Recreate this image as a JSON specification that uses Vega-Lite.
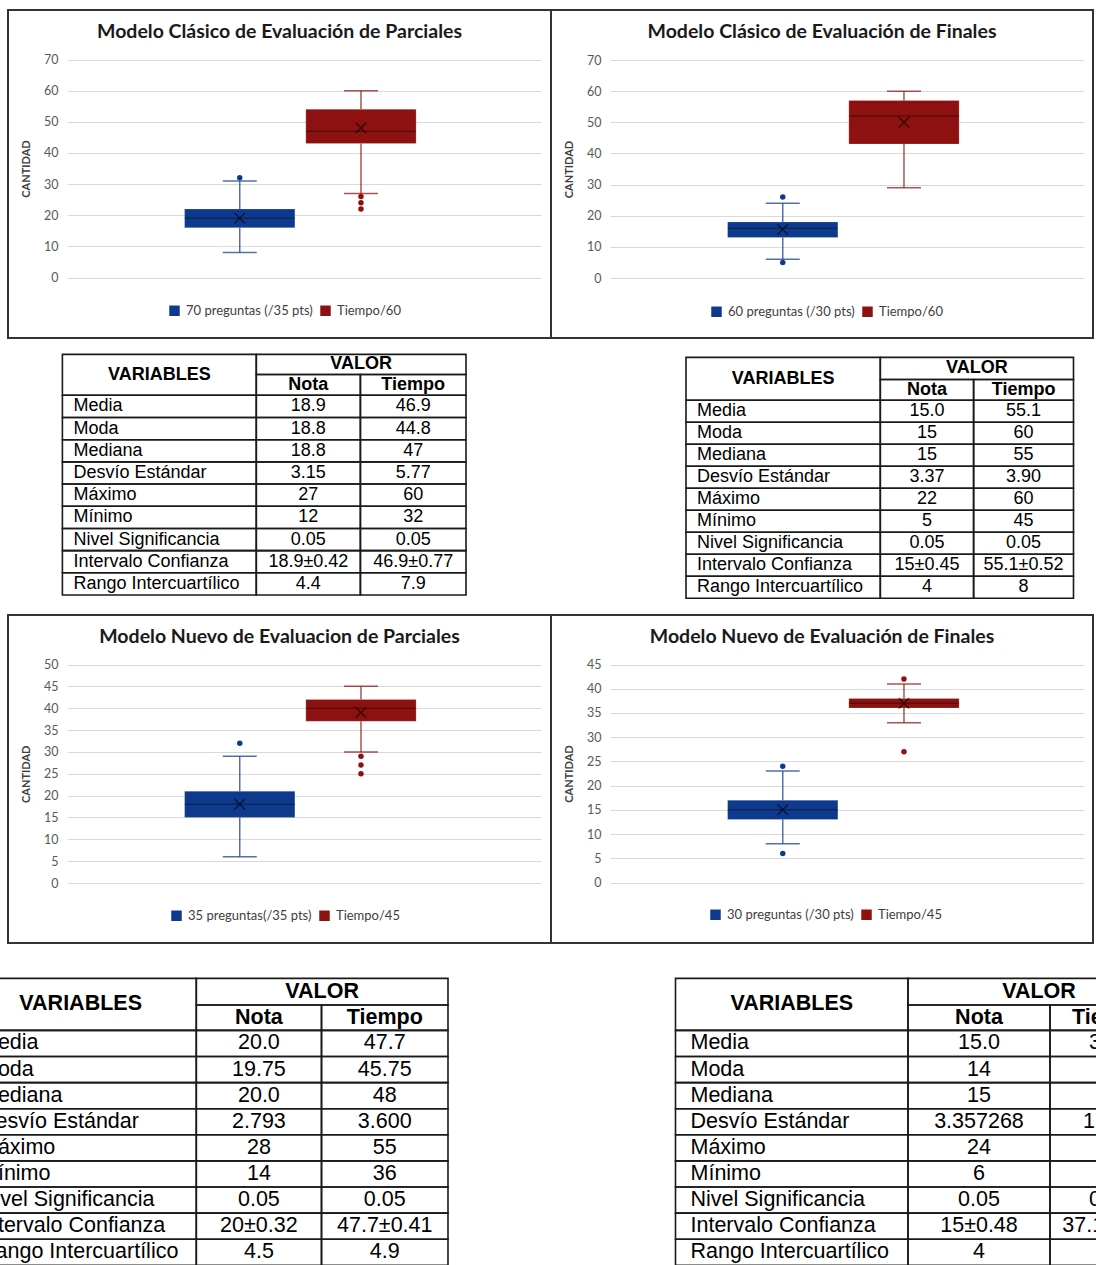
{
  "$schema": "https://vega.github.io/schema/vega-lite/v6.json",
  "background": "white",
  "autosize": {"type": "none"},
  "padding": {"left": 8, "top": 10, "right": 1088, "bottom": 1255},
  "bounds": "flush",
  "columns": 2,
  "spacing": {"row": 0, "column": 0},
  "resolve": {
    "scale": {"x": "independent", "y": "independent", "color": "independent"},
    "legend": {"color": "independent"}
  },
  "config": {
    "view": {"stroke": null},
    "title": {"font": "Lato", "fontSize": 19.5, "fontWeight": 700, "color": "#1a1a1a", "anchor": "middle"},
    "text": {"font": "Liberation Sans", "color": "#000000"},
    "legend": {
      "orient": "none", "direction": "horizontal", "symbolType": "square", "symbolSize": 110,
      "symbolStrokeWidth": 0, "symbolOpacity": 1, "labelFont": "Lato", "labelFontSize": 13, "labelColor": "#404040",
      "labelOffset": 5, "columnPadding": 6, "padding": 0
    },
    "axisY": {
      "domain": false, "ticks": false, "labelPadding": 9, "labelFont": "Lato", "labelFontSize": 12.5,
      "labelColor": "#595959", "labelOverlap": false, "titleFont": "Lato", "titleFontSize": 11, "titleFontWeight": "bold",
      "titleColor": "#404040", "titlePadding": 12, "gridColor": "#D9D9D9", "gridWidth": 1.2
    }
  },
  "datasets": {
    "cajas": [
      {"grafico": "Clásico Parciales", "serie": "70 preguntas (/35 pts)", "minimo": 8, "q1": 16, "mediana": 19, "q3": 22, "maximo": 31, "media": 19},
      {"grafico": "Clásico Parciales", "serie": "Tiempo/60", "minimo": 27, "q1": 43, "mediana": 47, "q3": 54, "maximo": 60, "media": 48},
      {"grafico": "Clásico Finales", "serie": "60 preguntas (/30 pts)", "minimo": 6, "q1": 13, "mediana": 16, "q3": 18, "maximo": 24, "media": 15.6},
      {"grafico": "Clásico Finales", "serie": "Tiempo/60", "minimo": 29, "q1": 43, "mediana": 52, "q3": 57, "maximo": 60, "media": 50},
      {"grafico": "Nuevo Parciales", "serie": "35 preguntas(/35 pts)", "minimo": 6, "q1": 15, "mediana": 18, "q3": 21, "maximo": 29, "media": 18},
      {"grafico": "Nuevo Parciales", "serie": "Tiempo/45", "minimo": 30, "q1": 37, "mediana": 40, "q3": 42, "maximo": 45, "media": 39},
      {"grafico": "Nuevo Finales", "serie": "30 preguntas (/30 pts)", "minimo": 8, "q1": 13, "mediana": 15, "q3": 17, "maximo": 23, "media": 15},
      {"grafico": "Nuevo Finales", "serie": "Tiempo/45", "minimo": 33, "q1": 36, "mediana": 37, "q3": 38, "maximo": 41, "media": 37}
    ],
    "atipicos": [
      {"grafico": "Clásico Parciales", "serie": "70 preguntas (/35 pts)", "valor": 32},
      {"grafico": "Clásico Parciales", "serie": "Tiempo/60", "valor": 26},
      {"grafico": "Clásico Parciales", "serie": "Tiempo/60", "valor": 24},
      {"grafico": "Clásico Parciales", "serie": "Tiempo/60", "valor": 22},
      {"grafico": "Clásico Finales", "serie": "60 preguntas (/30 pts)", "valor": 26},
      {"grafico": "Clásico Finales", "serie": "60 preguntas (/30 pts)", "valor": 5},
      {"grafico": "Nuevo Parciales", "serie": "35 preguntas(/35 pts)", "valor": 32},
      {"grafico": "Nuevo Parciales", "serie": "Tiempo/45", "valor": 29},
      {"grafico": "Nuevo Parciales", "serie": "Tiempo/45", "valor": 27},
      {"grafico": "Nuevo Parciales", "serie": "Tiempo/45", "valor": 25},
      {"grafico": "Nuevo Finales", "serie": "30 preguntas (/30 pts)", "valor": 24},
      {"grafico": "Nuevo Finales", "serie": "30 preguntas (/30 pts)", "valor": 6},
      {"grafico": "Nuevo Finales", "serie": "Tiempo/45", "valor": 42},
      {"grafico": "Nuevo Finales", "serie": "Tiempo/45", "valor": 27}
    ],
    "cabecera": [
      {"texto": "VARIABLES"}, {"texto": "VALOR"}, {"texto": "Nota"}, {"texto": "Tiempo"}
    ],
    "tablas": [
      {"tabla": "Clásico Parciales", "variable": "Media", "Nota": "18.9", "Tiempo": "46.9"},
      {"tabla": "Clásico Parciales", "variable": "Moda", "Nota": "18.8", "Tiempo": "44.8"},
      {"tabla": "Clásico Parciales", "variable": "Mediana", "Nota": "18.8", "Tiempo": "47"},
      {"tabla": "Clásico Parciales", "variable": "Desvío Estándar", "Nota": "3.15", "Tiempo": "5.77"},
      {"tabla": "Clásico Parciales", "variable": "Máximo", "Nota": "27", "Tiempo": "60"},
      {"tabla": "Clásico Parciales", "variable": "Mínimo", "Nota": "12", "Tiempo": "32"},
      {"tabla": "Clásico Parciales", "variable": "Nivel Significancia", "Nota": "0.05", "Tiempo": "0.05"},
      {"tabla": "Clásico Parciales", "variable": "Intervalo Confianza", "Nota": "18.9±0.42", "Tiempo": "46.9±0.77"},
      {"tabla": "Clásico Parciales", "variable": "Rango Intercuartílico", "Nota": "4.4", "Tiempo": "7.9"},
      {"tabla": "Clásico Finales", "variable": "Media", "Nota": "15.0", "Tiempo": "55.1"},
      {"tabla": "Clásico Finales", "variable": "Moda", "Nota": "15", "Tiempo": "60"},
      {"tabla": "Clásico Finales", "variable": "Mediana", "Nota": "15", "Tiempo": "55"},
      {"tabla": "Clásico Finales", "variable": "Desvío Estándar", "Nota": "3.37", "Tiempo": "3.90"},
      {"tabla": "Clásico Finales", "variable": "Máximo", "Nota": "22", "Tiempo": "60"},
      {"tabla": "Clásico Finales", "variable": "Mínimo", "Nota": "5", "Tiempo": "45"},
      {"tabla": "Clásico Finales", "variable": "Nivel Significancia", "Nota": "0.05", "Tiempo": "0.05"},
      {"tabla": "Clásico Finales", "variable": "Intervalo Confianza", "Nota": "15±0.45", "Tiempo": "55.1±0.52"},
      {"tabla": "Clásico Finales", "variable": "Rango Intercuartílico", "Nota": "4", "Tiempo": "8"},
      {"tabla": "Nuevo Parciales", "variable": "Media", "Nota": "20.0", "Tiempo": "47.7"},
      {"tabla": "Nuevo Parciales", "variable": "Moda", "Nota": "19.75", "Tiempo": "45.75"},
      {"tabla": "Nuevo Parciales", "variable": "Mediana", "Nota": "20.0", "Tiempo": "48"},
      {"tabla": "Nuevo Parciales", "variable": "Desvío Estándar", "Nota": "2.793", "Tiempo": "3.600"},
      {"tabla": "Nuevo Parciales", "variable": "Máximo", "Nota": "28", "Tiempo": "55"},
      {"tabla": "Nuevo Parciales", "variable": "Mínimo", "Nota": "14", "Tiempo": "36"},
      {"tabla": "Nuevo Parciales", "variable": "Nivel Significancia", "Nota": "0.05", "Tiempo": "0.05"},
      {"tabla": "Nuevo Parciales", "variable": "Intervalo Confianza", "Nota": "20±0.32", "Tiempo": "47.7±0.41"},
      {"tabla": "Nuevo Parciales", "variable": "Rango Intercuartílico", "Nota": "4.5", "Tiempo": "4.9"},
      {"tabla": "Nuevo Finales", "variable": "Media", "Nota": "15.0", "Tiempo": "37.1"},
      {"tabla": "Nuevo Finales", "variable": "Moda", "Nota": "14", "Tiempo": "37"},
      {"tabla": "Nuevo Finales", "variable": "Mediana", "Nota": "15", "Tiempo": "37"},
      {"tabla": "Nuevo Finales", "variable": "Desvío Estándar", "Nota": "3.357268", "Tiempo": "1.843"},
      {"tabla": "Nuevo Finales", "variable": "Máximo", "Nota": "24", "Tiempo": "42"},
      {"tabla": "Nuevo Finales", "variable": "Mínimo", "Nota": "6", "Tiempo": "27"},
      {"tabla": "Nuevo Finales", "variable": "Nivel Significancia", "Nota": "0.05", "Tiempo": "0.05"},
      {"tabla": "Nuevo Finales", "variable": "Intervalo Confianza", "Nota": "15±0.48", "Tiempo": "37.1±0.25"},
      {"tabla": "Nuevo Finales", "variable": "Rango Intercuartílico", "Nota": "4", "Tiempo": "2"}
    ]
  },
  "concat": [
    {
      "width": 543, "height": 328,
      "view": {"stroke": "#333333", "strokeWidth": 2},
      "title": {"text": "Modelo Clásico de Evaluación de Parciales", "offset": -32},
      "data": {"name": "cajas"},
      "transform": [{"filter": "datum.grafico === 'Clásico Parciales'"}],
      "encoding": {
        "x": {"field": "serie", "type": "nominal", "axis": null,
              "scale": {"domain": ["70 preguntas (/35 pts)", "Tiempo/60"], "range": [59, 533], "paddingInner": 0.09, "paddingOuter": 1, "align": 0.485}}
      },
      "layer": [
        {"mark": {"type": "bar", "stroke": "#ffffff", "strokeOpacity": 0.2, "strokeWidth": 1, "opacity": 1},
         "encoding": {
           "y": {"field": "q1", "type": "quantitative", "scale": {"domain": [0, 70], "range": [267.5, 49.5], "nice": false, "zero": false},
                 "axis": {"title": "CANTIDAD", "offset": -59, "values": [0, 10, 20, 30, 40, 50, 60, 70]}},
           "y2": {"field": "q3"},
           "color": {"field": "serie", "type": "nominal", "scale": {"domain": ["70 preguntas (/35 pts)", "Tiempo/60"], "range": ["#0E3A8E", "#8E1111"]},
                     "legend": {"title": null, "orient": "none", "symbolType": "square", "legendX": 160, "legendY": 294}}}},
        {"mark": {"type": "rule", "strokeWidth": 1.5, "opacity": 0.72},
         "encoding": {"y": {"field": "minimo", "type": "quantitative", "axis": {"title": "CANTIDAD", "offset": -59, "values": [0, 10, 20, 30, 40, 50, 60, 70]}}, "y2": {"field": "q1"}, "color": {"field": "serie", "type": "nominal"}}},
        {"mark": {"type": "rule", "strokeWidth": 1.5, "opacity": 0.72},
         "encoding": {"y": {"field": "q3", "type": "quantitative", "axis": {"title": "CANTIDAD", "offset": -59, "values": [0, 10, 20, 30, 40, 50, 60, 70]}}, "y2": {"field": "maximo"}, "color": {"field": "serie", "type": "nominal"}}},
        {"transform": [{"fold": ["minimo", "maximo"], "as": ["extremo", "valor"]}],
         "mark": {"type": "tick", "size": 34, "thickness": 1.5, "opacity": 0.72},
         "encoding": {"y": {"field": "valor", "type": "quantitative", "axis": {"title": "CANTIDAD", "offset": -59, "values": [0, 10, 20, 30, 40, 50, 60, 70]}}, "color": {"field": "serie", "type": "nominal"}}},
        {"mark": {"type": "tick", "size": 110, "thickness": 1.5, "color": "#000000", "opacity": 0.35},
         "encoding": {"y": {"field": "mediana", "type": "quantitative", "axis": {"title": "CANTIDAD", "offset": -59, "values": [0, 10, 20, 30, 40, 50, 60, 70]}}}},
        {"mark": {"type": "point", "shape": "M-1,-1L1,1M-1,1L1,-1", "filled": false, "size": 110, "color": "#000000", "strokeWidth": 1.4, "opacity": 0.6},
         "encoding": {"y": {"field": "media", "type": "quantitative", "axis": {"title": "CANTIDAD", "offset": -59, "values": [0, 10, 20, 30, 40, 50, 60, 70]}}}},
        {"data": {"name": "atipicos"},
         "transform": [{"filter": "datum.grafico === 'Clásico Parciales'"}],
         "mark": {"type": "point", "filled": true, "size": 30, "opacity": 1},
         "encoding": {"y": {"field": "valor", "type": "quantitative", "axis": {"title": "CANTIDAD", "offset": -59, "values": [0, 10, 20, 30, 40, 50, 60, 70]}}, "color": {"field": "serie", "type": "nominal"}}}
      ]
    },
    {
      "width": 542, "height": 328,
      "view": {"stroke": "#333333", "strokeWidth": 2},
      "title": {"text": "Modelo Clásico de Evaluación de Finales", "offset": -32},
      "data": {"name": "cajas"},
      "transform": [{"filter": "datum.grafico === 'Clásico Finales'"}],
      "encoding": {
        "x": {"field": "serie", "type": "nominal", "axis": null,
              "scale": {"domain": ["60 preguntas (/30 pts)", "Tiempo/60"], "range": [59, 533], "paddingInner": 0.09, "paddingOuter": 1, "align": 0.485}}
      },
      "layer": [
        {"mark": {"type": "bar", "stroke": "#ffffff", "strokeOpacity": 0.2, "strokeWidth": 1, "opacity": 1},
         "encoding": {
           "y": {"field": "q1", "type": "quantitative", "scale": {"domain": [0, 70], "range": [268, 50], "nice": false, "zero": false},
                 "axis": {"title": "CANTIDAD", "offset": -59, "values": [0, 10, 20, 30, 40, 50, 60, 70]}},
           "y2": {"field": "q3"},
           "color": {"field": "serie", "type": "nominal", "scale": {"domain": ["60 preguntas (/30 pts)", "Tiempo/60"], "range": ["#0E3A8E", "#8E1111"]},
                     "legend": {"title": null, "orient": "none", "symbolType": "square", "legendX": 159, "legendY": 295}}}},
        {"mark": {"type": "rule", "strokeWidth": 1.5, "opacity": 0.72},
         "encoding": {"y": {"field": "minimo", "type": "quantitative", "axis": {"title": "CANTIDAD", "offset": -59, "values": [0, 10, 20, 30, 40, 50, 60, 70]}}, "y2": {"field": "q1"}, "color": {"field": "serie", "type": "nominal"}}},
        {"mark": {"type": "rule", "strokeWidth": 1.5, "opacity": 0.72},
         "encoding": {"y": {"field": "q3", "type": "quantitative", "axis": {"title": "CANTIDAD", "offset": -59, "values": [0, 10, 20, 30, 40, 50, 60, 70]}}, "y2": {"field": "maximo"}, "color": {"field": "serie", "type": "nominal"}}},
        {"transform": [{"fold": ["minimo", "maximo"], "as": ["extremo", "valor"]}],
         "mark": {"type": "tick", "size": 34, "thickness": 1.5, "opacity": 0.72},
         "encoding": {"y": {"field": "valor", "type": "quantitative", "axis": {"title": "CANTIDAD", "offset": -59, "values": [0, 10, 20, 30, 40, 50, 60, 70]}}, "color": {"field": "serie", "type": "nominal"}}},
        {"mark": {"type": "tick", "size": 110, "thickness": 1.5, "color": "#000000", "opacity": 0.35},
         "encoding": {"y": {"field": "mediana", "type": "quantitative", "axis": {"title": "CANTIDAD", "offset": -59, "values": [0, 10, 20, 30, 40, 50, 60, 70]}}}},
        {"mark": {"type": "point", "shape": "M-1,-1L1,1M-1,1L1,-1", "filled": false, "size": 110, "color": "#000000", "strokeWidth": 1.4, "opacity": 0.6},
         "encoding": {"y": {"field": "media", "type": "quantitative", "axis": {"title": "CANTIDAD", "offset": -59, "values": [0, 10, 20, 30, 40, 50, 60, 70]}}}},
        {"data": {"name": "atipicos"},
         "transform": [{"filter": "datum.grafico === 'Clásico Finales'"}],
         "mark": {"type": "point", "filled": true, "size": 30, "opacity": 1},
         "encoding": {"y": {"field": "valor", "type": "quantitative", "axis": {"title": "CANTIDAD", "offset": -59, "values": [0, 10, 20, 30, 40, 50, 60, 70]}}, "color": {"field": "serie", "type": "nominal"}}}
      ]
    },
    {
      "width": 543, "height": 277,
      "resolve": {"scale": {"x": "independent", "y": "independent"}},
      "layer": [
        {"data": {"name": "cabecera"}, "transform": [{"filter": "datum.texto === 'VARIABLES'"}],
         "encoding": {
           "x": {"field": "texto", "type": "nominal", "axis": null, "scale": {"range": [54.4, 248.3], "paddingInner": 0, "paddingOuter": 0}},
           "y": {"field": "texto", "type": "nominal", "axis": null, "scale": {"range": [16.4, 57.3], "paddingInner": 0, "paddingOuter": 0}}},
         "layer": [
           {"mark": {"type": "rect", "filled": false, "stroke": "#1a1a1a", "strokeWidth": 1.6}},
           {"mark": {"type": "text", "fontSize": 18, "fontWeight": "bold"}, "encoding": {"text": {"field": "texto"}}}]},
        {"data": {"name": "cabecera"}, "transform": [{"filter": "datum.texto === 'VALOR'"}],
         "encoding": {
           "x": {"field": "texto", "type": "nominal", "axis": null, "scale": {"range": [248.3, 458], "paddingInner": 0, "paddingOuter": 0}},
           "y": {"field": "texto", "type": "nominal", "axis": null, "scale": {"range": [16.4, 36.5], "paddingInner": 0, "paddingOuter": 0}}},
         "layer": [
           {"mark": {"type": "rect", "filled": false, "stroke": "#1a1a1a", "strokeWidth": 1.6}},
           {"mark": {"type": "text", "fontSize": 18, "fontWeight": "bold"}, "encoding": {"text": {"field": "texto"}}}]},
        {"data": {"name": "cabecera"}, "transform": [{"filter": "datum.texto === 'Nota'"}],
         "encoding": {
           "x": {"field": "texto", "type": "nominal", "axis": null, "scale": {"range": [248.3, 352.4], "paddingInner": 0, "paddingOuter": 0}},
           "y": {"field": "texto", "type": "nominal", "axis": null, "scale": {"range": [36.5, 57.3], "paddingInner": 0, "paddingOuter": 0}}},
         "layer": [
           {"mark": {"type": "rect", "filled": false, "stroke": "#1a1a1a", "strokeWidth": 1.6}},
           {"mark": {"type": "text", "fontSize": 18, "fontWeight": "bold"}, "encoding": {"text": {"field": "texto"}}}]},
        {"data": {"name": "cabecera"}, "transform": [{"filter": "datum.texto === 'Tiempo'"}],
         "encoding": {
           "x": {"field": "texto", "type": "nominal", "axis": null, "scale": {"range": [352.4, 458], "paddingInner": 0, "paddingOuter": 0}},
           "y": {"field": "texto", "type": "nominal", "axis": null, "scale": {"range": [36.5, 57.3], "paddingInner": 0, "paddingOuter": 0}}},
         "layer": [
           {"mark": {"type": "rect", "filled": false, "stroke": "#1a1a1a", "strokeWidth": 1.6}},
           {"mark": {"type": "text", "fontSize": 18, "fontWeight": "bold"}, "encoding": {"text": {"field": "texto"}}}]},
        {"data": {"name": "tablas"},
         "transform": [{"filter": "datum.tabla === 'Clásico Parciales'"}, {"fold": ["variable"], "as": ["columna", "valor"]}],
         "encoding": {
           "x": {"field": "columna", "type": "nominal", "axis": null, "scale": {"range": [54.4, 248.3], "paddingInner": 0, "paddingOuter": 0}},
           "y": {"field": "variable", "type": "nominal", "sort": null, "axis": null,
                 "scale": {"domain": ["Media", "Moda", "Mediana", "Desvío Estándar", "Máximo", "Mínimo", "Nivel Significancia", "Intervalo Confianza", "Rango Intercuartílico"], "range": [57.3, 257], "paddingInner": 0, "paddingOuter": 0}}},
         "layer": [
           {"mark": {"type": "rect", "filled": false, "stroke": "#1a1a1a", "strokeWidth": 1.6}},
           {"mark": {"type": "text", "fontSize": 18, "align": "left", "dx": 11},
            "encoding": {"x": {"field": "columna", "type": "nominal", "bandPosition": 0, "axis": null}, "text": {"field": "valor"}}}]},
        {"data": {"name": "tablas"},
         "transform": [{"filter": "datum.tabla === 'Clásico Parciales'"}, {"fold": ["Nota", "Tiempo"], "as": ["columna", "valor"]}, {"filter": "datum.columna === 'Nota'"}],
         "encoding": {
           "x": {"field": "columna", "type": "nominal", "axis": null, "scale": {"range": [248.3, 352.4], "paddingInner": 0, "paddingOuter": 0}},
           "y": {"field": "variable", "type": "nominal", "sort": null, "axis": null,
                 "scale": {"domain": ["Media", "Moda", "Mediana", "Desvío Estándar", "Máximo", "Mínimo", "Nivel Significancia", "Intervalo Confianza", "Rango Intercuartílico"], "range": [57.3, 257], "paddingInner": 0, "paddingOuter": 0}}},
         "layer": [
           {"mark": {"type": "rect", "filled": false, "stroke": "#1a1a1a", "strokeWidth": 1.6}},
           {"mark": {"type": "text", "fontSize": 18}, "encoding": {"text": {"field": "valor"}}}]},
        {"data": {"name": "tablas"},
         "transform": [{"filter": "datum.tabla === 'Clásico Parciales'"}, {"fold": ["Nota", "Tiempo"], "as": ["columna", "valor"]}, {"filter": "datum.columna === 'Tiempo'"}],
         "encoding": {
           "x": {"field": "columna", "type": "nominal", "axis": null, "scale": {"range": [352.4, 458], "paddingInner": 0, "paddingOuter": 0}},
           "y": {"field": "variable", "type": "nominal", "sort": null, "axis": null,
                 "scale": {"domain": ["Media", "Moda", "Mediana", "Desvío Estándar", "Máximo", "Mínimo", "Nivel Significancia", "Intervalo Confianza", "Rango Intercuartílico"], "range": [57.3, 257], "paddingInner": 0, "paddingOuter": 0}}},
         "layer": [
           {"mark": {"type": "rect", "filled": false, "stroke": "#1a1a1a", "strokeWidth": 1.6}},
           {"mark": {"type": "text", "fontSize": 18}, "encoding": {"text": {"field": "valor"}}}]}
      ]
    },
    {
      "width": 542, "height": 277,
      "resolve": {"scale": {"x": "independent", "y": "independent"}},
      "layer": [
        {"data": {"name": "cabecera"}, "transform": [{"filter": "datum.texto === 'VARIABLES'"}],
         "encoding": {
           "x": {"field": "texto", "type": "nominal", "axis": null, "scale": {"range": [135, 329.3], "paddingInner": 0, "paddingOuter": 0}},
           "y": {"field": "texto", "type": "nominal", "axis": null, "scale": {"range": [19.4, 62.3], "paddingInner": 0, "paddingOuter": 0}}},
         "layer": [
           {"mark": {"type": "rect", "filled": false, "stroke": "#1a1a1a", "strokeWidth": 1.6}},
           {"mark": {"type": "text", "fontSize": 18, "fontWeight": "bold"}, "encoding": {"text": {"field": "texto"}}}]},
        {"data": {"name": "cabecera"}, "transform": [{"filter": "datum.texto === 'VALOR'"}],
         "encoding": {
           "x": {"field": "texto", "type": "nominal", "axis": null, "scale": {"range": [329.3, 522.5], "paddingInner": 0, "paddingOuter": 0}},
           "y": {"field": "texto", "type": "nominal", "axis": null, "scale": {"range": [19.4, 41.5], "paddingInner": 0, "paddingOuter": 0}}},
         "layer": [
           {"mark": {"type": "rect", "filled": false, "stroke": "#1a1a1a", "strokeWidth": 1.6}},
           {"mark": {"type": "text", "fontSize": 18, "fontWeight": "bold"}, "encoding": {"text": {"field": "texto"}}}]},
        {"data": {"name": "cabecera"}, "transform": [{"filter": "datum.texto === 'Nota'"}],
         "encoding": {
           "x": {"field": "texto", "type": "nominal", "axis": null, "scale": {"range": [329.3, 422.6], "paddingInner": 0, "paddingOuter": 0}},
           "y": {"field": "texto", "type": "nominal", "axis": null, "scale": {"range": [41.5, 62.3], "paddingInner": 0, "paddingOuter": 0}}},
         "layer": [
           {"mark": {"type": "rect", "filled": false, "stroke": "#1a1a1a", "strokeWidth": 1.6}},
           {"mark": {"type": "text", "fontSize": 18, "fontWeight": "bold"}, "encoding": {"text": {"field": "texto"}}}]},
        {"data": {"name": "cabecera"}, "transform": [{"filter": "datum.texto === 'Tiempo'"}],
         "encoding": {
           "x": {"field": "texto", "type": "nominal", "axis": null, "scale": {"range": [422.6, 522.5], "paddingInner": 0, "paddingOuter": 0}},
           "y": {"field": "texto", "type": "nominal", "axis": null, "scale": {"range": [41.5, 62.3], "paddingInner": 0, "paddingOuter": 0}}},
         "layer": [
           {"mark": {"type": "rect", "filled": false, "stroke": "#1a1a1a", "strokeWidth": 1.6}},
           {"mark": {"type": "text", "fontSize": 18, "fontWeight": "bold"}, "encoding": {"text": {"field": "texto"}}}]},
        {"data": {"name": "tablas"},
         "transform": [{"filter": "datum.tabla === 'Clásico Finales'"}, {"fold": ["variable"], "as": ["columna", "valor"]}],
         "encoding": {
           "x": {"field": "columna", "type": "nominal", "axis": null, "scale": {"range": [135, 329.3], "paddingInner": 0, "paddingOuter": 0}},
           "y": {"field": "variable", "type": "nominal", "sort": null, "axis": null,
                 "scale": {"domain": ["Media", "Moda", "Mediana", "Desvío Estándar", "Máximo", "Mínimo", "Nivel Significancia", "Intervalo Confianza", "Rango Intercuartílico"], "range": [62.3, 260.3], "paddingInner": 0, "paddingOuter": 0}}},
         "layer": [
           {"mark": {"type": "rect", "filled": false, "stroke": "#1a1a1a", "strokeWidth": 1.6}},
           {"mark": {"type": "text", "fontSize": 18, "align": "left", "dx": 11},
            "encoding": {"x": {"field": "columna", "type": "nominal", "bandPosition": 0, "axis": null}, "text": {"field": "valor"}}}]},
        {"data": {"name": "tablas"},
         "transform": [{"filter": "datum.tabla === 'Clásico Finales'"}, {"fold": ["Nota", "Tiempo"], "as": ["columna", "valor"]}, {"filter": "datum.columna === 'Nota'"}],
         "encoding": {
           "x": {"field": "columna", "type": "nominal", "axis": null, "scale": {"range": [329.3, 422.6], "paddingInner": 0, "paddingOuter": 0}},
           "y": {"field": "variable", "type": "nominal", "sort": null, "axis": null,
                 "scale": {"domain": ["Media", "Moda", "Mediana", "Desvío Estándar", "Máximo", "Mínimo", "Nivel Significancia", "Intervalo Confianza", "Rango Intercuartílico"], "range": [62.3, 260.3], "paddingInner": 0, "paddingOuter": 0}}},
         "layer": [
           {"mark": {"type": "rect", "filled": false, "stroke": "#1a1a1a", "strokeWidth": 1.6}},
           {"mark": {"type": "text", "fontSize": 18}, "encoding": {"text": {"field": "valor"}}}]},
        {"data": {"name": "tablas"},
         "transform": [{"filter": "datum.tabla === 'Clásico Finales'"}, {"fold": ["Nota", "Tiempo"], "as": ["columna", "valor"]}, {"filter": "datum.columna === 'Tiempo'"}],
         "encoding": {
           "x": {"field": "columna", "type": "nominal", "axis": null, "scale": {"range": [422.6, 522.5], "paddingInner": 0, "paddingOuter": 0}},
           "y": {"field": "variable", "type": "nominal", "sort": null, "axis": null,
                 "scale": {"domain": ["Media", "Moda", "Mediana", "Desvío Estándar", "Máximo", "Mínimo", "Nivel Significancia", "Intervalo Confianza", "Rango Intercuartílico"], "range": [62.3, 260.3], "paddingInner": 0, "paddingOuter": 0}}},
         "layer": [
           {"mark": {"type": "rect", "filled": false, "stroke": "#1a1a1a", "strokeWidth": 1.6}},
           {"mark": {"type": "text", "fontSize": 18}, "encoding": {"text": {"field": "valor"}}}]}
      ]
    },
    {
      "width": 543, "height": 328,
      "view": {"stroke": "#333333", "strokeWidth": 2},
      "title": {"text": "Modelo Nuevo de Evaluacion de Parciales", "offset": -32},
      "data": {"name": "cajas"},
      "transform": [{"filter": "datum.grafico === 'Nuevo Parciales'"}],
      "encoding": {
        "x": {"field": "serie", "type": "nominal", "axis": null,
              "scale": {"domain": ["35 preguntas(/35 pts)", "Tiempo/45"], "range": [59, 533], "paddingInner": 0.09, "paddingOuter": 1, "align": 0.485}}
      },
      "layer": [
        {"mark": {"type": "bar", "stroke": "#ffffff", "strokeOpacity": 0.2, "strokeWidth": 1, "opacity": 1},
         "encoding": {
           "y": {"field": "q1", "type": "quantitative", "scale": {"domain": [0, 50], "range": [268, 49.5], "nice": false, "zero": false},
                 "axis": {"title": "CANTIDAD", "offset": -59, "values": [0, 5, 10, 15, 20, 25, 30, 35, 40, 45, 50]}},
           "y2": {"field": "q3"},
           "color": {"field": "serie", "type": "nominal", "scale": {"domain": ["35 preguntas(/35 pts)", "Tiempo/45"], "range": ["#0E3A8E", "#8E1111"]},
                     "legend": {"title": null, "orient": "none", "symbolType": "square", "legendX": 162, "legendY": 294}}}},
        {"mark": {"type": "rule", "strokeWidth": 1.5, "opacity": 0.72},
         "encoding": {"y": {"field": "minimo", "type": "quantitative", "axis": {"title": "CANTIDAD", "offset": -59, "values": [0, 5, 10, 15, 20, 25, 30, 35, 40, 45, 50]}}, "y2": {"field": "q1"}, "color": {"field": "serie", "type": "nominal"}}},
        {"mark": {"type": "rule", "strokeWidth": 1.5, "opacity": 0.72},
         "encoding": {"y": {"field": "q3", "type": "quantitative", "axis": {"title": "CANTIDAD", "offset": -59, "values": [0, 5, 10, 15, 20, 25, 30, 35, 40, 45, 50]}}, "y2": {"field": "maximo"}, "color": {"field": "serie", "type": "nominal"}}},
        {"transform": [{"fold": ["minimo", "maximo"], "as": ["extremo", "valor"]}],
         "mark": {"type": "tick", "size": 34, "thickness": 1.5, "opacity": 0.72},
         "encoding": {"y": {"field": "valor", "type": "quantitative", "axis": {"title": "CANTIDAD", "offset": -59, "values": [0, 5, 10, 15, 20, 25, 30, 35, 40, 45, 50]}}, "color": {"field": "serie", "type": "nominal"}}},
        {"mark": {"type": "tick", "size": 110, "thickness": 1.5, "color": "#000000", "opacity": 0.35},
         "encoding": {"y": {"field": "mediana", "type": "quantitative", "axis": {"title": "CANTIDAD", "offset": -59, "values": [0, 5, 10, 15, 20, 25, 30, 35, 40, 45, 50]}}}},
        {"mark": {"type": "point", "shape": "M-1,-1L1,1M-1,1L1,-1", "filled": false, "size": 110, "color": "#000000", "strokeWidth": 1.4, "opacity": 0.6},
         "encoding": {"y": {"field": "media", "type": "quantitative", "axis": {"title": "CANTIDAD", "offset": -59, "values": [0, 5, 10, 15, 20, 25, 30, 35, 40, 45, 50]}}}},
        {"data": {"name": "atipicos"},
         "transform": [{"filter": "datum.grafico === 'Nuevo Parciales'"}],
         "mark": {"type": "point", "filled": true, "size": 30, "opacity": 1},
         "encoding": {"y": {"field": "valor", "type": "quantitative", "axis": {"title": "CANTIDAD", "offset": -59, "values": [0, 5, 10, 15, 20, 25, 30, 35, 40, 45, 50]}}, "color": {"field": "serie", "type": "nominal"}}}
      ]
    },
    {
      "width": 542, "height": 328,
      "view": {"stroke": "#333333", "strokeWidth": 2},
      "title": {"text": "Modelo Nuevo de Evaluación de Finales", "offset": -32},
      "data": {"name": "cajas"},
      "transform": [{"filter": "datum.grafico === 'Nuevo Finales'"}],
      "encoding": {
        "x": {"field": "serie", "type": "nominal", "axis": null,
              "scale": {"domain": ["30 preguntas (/30 pts)", "Tiempo/45"], "range": [59, 533], "paddingInner": 0.09, "paddingOuter": 1, "align": 0.485}}
      },
      "layer": [
        {"mark": {"type": "bar", "stroke": "#ffffff", "strokeOpacity": 0.2, "strokeWidth": 1, "opacity": 1},
         "encoding": {
           "y": {"field": "q1", "type": "quantitative", "scale": {"domain": [0, 45], "range": [267.5, 49.5], "nice": false, "zero": false},
                 "axis": {"title": "CANTIDAD", "offset": -59, "values": [0, 5, 10, 15, 20, 25, 30, 35, 40, 45]}},
           "y2": {"field": "q3"},
           "color": {"field": "serie", "type": "nominal", "scale": {"domain": ["30 preguntas (/30 pts)", "Tiempo/45"], "range": ["#0E3A8E", "#8E1111"]},
                     "legend": {"title": null, "orient": "none", "symbolType": "square", "legendX": 158, "legendY": 293}}}},
        {"mark": {"type": "rule", "strokeWidth": 1.5, "opacity": 0.72},
         "encoding": {"y": {"field": "minimo", "type": "quantitative", "axis": {"title": "CANTIDAD", "offset": -59, "values": [0, 5, 10, 15, 20, 25, 30, 35, 40, 45]}}, "y2": {"field": "q1"}, "color": {"field": "serie", "type": "nominal"}}},
        {"mark": {"type": "rule", "strokeWidth": 1.5, "opacity": 0.72},
         "encoding": {"y": {"field": "q3", "type": "quantitative", "axis": {"title": "CANTIDAD", "offset": -59, "values": [0, 5, 10, 15, 20, 25, 30, 35, 40, 45]}}, "y2": {"field": "maximo"}, "color": {"field": "serie", "type": "nominal"}}},
        {"transform": [{"fold": ["minimo", "maximo"], "as": ["extremo", "valor"]}],
         "mark": {"type": "tick", "size": 34, "thickness": 1.5, "opacity": 0.72},
         "encoding": {"y": {"field": "valor", "type": "quantitative", "axis": {"title": "CANTIDAD", "offset": -59, "values": [0, 5, 10, 15, 20, 25, 30, 35, 40, 45]}}, "color": {"field": "serie", "type": "nominal"}}},
        {"mark": {"type": "tick", "size": 110, "thickness": 1.5, "color": "#000000", "opacity": 0.35},
         "encoding": {"y": {"field": "mediana", "type": "quantitative", "axis": {"title": "CANTIDAD", "offset": -59, "values": [0, 5, 10, 15, 20, 25, 30, 35, 40, 45]}}}},
        {"mark": {"type": "point", "shape": "M-1,-1L1,1M-1,1L1,-1", "filled": false, "size": 110, "color": "#000000", "strokeWidth": 1.4, "opacity": 0.6},
         "encoding": {"y": {"field": "media", "type": "quantitative", "axis": {"title": "CANTIDAD", "offset": -59, "values": [0, 5, 10, 15, 20, 25, 30, 35, 40, 45]}}}},
        {"data": {"name": "atipicos"},
         "transform": [{"filter": "datum.grafico === 'Nuevo Finales'"}],
         "mark": {"type": "point", "filled": true, "size": 30, "opacity": 1},
         "encoding": {"y": {"field": "valor", "type": "quantitative", "axis": {"title": "CANTIDAD", "offset": -59, "values": [0, 5, 10, 15, 20, 25, 30, 35, 40, 45]}}, "color": {"field": "serie", "type": "nominal"}}}
      ]
    },
    {
      "width": 543, "height": 322,
      "resolve": {"scale": {"x": "independent", "y": "independent"}},
      "layer": [
        {"data": {"name": "cabecera"}, "transform": [{"filter": "datum.texto === 'VARIABLES'"}],
         "encoding": {
           "x": {"field": "texto", "type": "nominal", "axis": null, "scale": {"range": [-43, 188.3], "paddingInner": 0, "paddingOuter": 0}},
           "y": {"field": "texto", "type": "nominal", "axis": null, "scale": {"range": [35.4, 87.4], "paddingInner": 0, "paddingOuter": 0}}},
         "layer": [
           {"mark": {"type": "rect", "filled": false, "stroke": "#1a1a1a", "strokeWidth": 1.6}},
           {"mark": {"type": "text", "fontSize": 21.5, "fontWeight": "bold"}, "encoding": {"text": {"field": "texto"}}}]},
        {"data": {"name": "cabecera"}, "transform": [{"filter": "datum.texto === 'VALOR'"}],
         "encoding": {
           "x": {"field": "texto", "type": "nominal", "axis": null, "scale": {"range": [188.3, 440], "paddingInner": 0, "paddingOuter": 0}},
           "y": {"field": "texto", "type": "nominal", "axis": null, "scale": {"range": [35.4, 62], "paddingInner": 0, "paddingOuter": 0}}},
         "layer": [
           {"mark": {"type": "rect", "filled": false, "stroke": "#1a1a1a", "strokeWidth": 1.6}},
           {"mark": {"type": "text", "fontSize": 21.5, "fontWeight": "bold"}, "encoding": {"text": {"field": "texto"}}}]},
        {"data": {"name": "cabecera"}, "transform": [{"filter": "datum.texto === 'Nota'"}],
         "encoding": {
           "x": {"field": "texto", "type": "nominal", "axis": null, "scale": {"range": [188.3, 313.5], "paddingInner": 0, "paddingOuter": 0}},
           "y": {"field": "texto", "type": "nominal", "axis": null, "scale": {"range": [62, 87.4], "paddingInner": 0, "paddingOuter": 0}}},
         "layer": [
           {"mark": {"type": "rect", "filled": false, "stroke": "#1a1a1a", "strokeWidth": 1.6}},
           {"mark": {"type": "text", "fontSize": 21.5, "fontWeight": "bold"}, "encoding": {"text": {"field": "texto"}}}]},
        {"data": {"name": "cabecera"}, "transform": [{"filter": "datum.texto === 'Tiempo'"}],
         "encoding": {
           "x": {"field": "texto", "type": "nominal", "axis": null, "scale": {"range": [313.5, 440], "paddingInner": 0, "paddingOuter": 0}},
           "y": {"field": "texto", "type": "nominal", "axis": null, "scale": {"range": [62, 87.4], "paddingInner": 0, "paddingOuter": 0}}},
         "layer": [
           {"mark": {"type": "rect", "filled": false, "stroke": "#1a1a1a", "strokeWidth": 1.6}},
           {"mark": {"type": "text", "fontSize": 21.5, "fontWeight": "bold"}, "encoding": {"text": {"field": "texto"}}}]},
        {"data": {"name": "tablas"},
         "transform": [{"filter": "datum.tabla === 'Nuevo Parciales'"}, {"fold": ["variable"], "as": ["columna", "valor"]}],
         "encoding": {
           "x": {"field": "columna", "type": "nominal", "axis": null, "scale": {"range": [-43, 188.3], "paddingInner": 0, "paddingOuter": 0}},
           "y": {"field": "variable", "type": "nominal", "sort": null, "axis": null,
                 "scale": {"domain": ["Media", "Moda", "Mediana", "Desvío Estándar", "Máximo", "Mínimo", "Nivel Significancia", "Intervalo Confianza", "Rango Intercuartílico"], "range": [87.4, 322.3], "paddingInner": 0, "paddingOuter": 0}}},
         "layer": [
           {"mark": {"type": "rect", "filled": false, "stroke": "#1a1a1a", "strokeWidth": 1.6}},
           {"mark": {"type": "text", "fontSize": 21.5, "align": "left", "dx": 15},
            "encoding": {"x": {"field": "columna", "type": "nominal", "bandPosition": 0, "axis": null}, "text": {"field": "valor"}}}]},
        {"data": {"name": "tablas"},
         "transform": [{"filter": "datum.tabla === 'Nuevo Parciales'"}, {"fold": ["Nota", "Tiempo"], "as": ["columna", "valor"]}, {"filter": "datum.columna === 'Nota'"}],
         "encoding": {
           "x": {"field": "columna", "type": "nominal", "axis": null, "scale": {"range": [188.3, 313.5], "paddingInner": 0, "paddingOuter": 0}},
           "y": {"field": "variable", "type": "nominal", "sort": null, "axis": null,
                 "scale": {"domain": ["Media", "Moda", "Mediana", "Desvío Estándar", "Máximo", "Mínimo", "Nivel Significancia", "Intervalo Confianza", "Rango Intercuartílico"], "range": [87.4, 322.3], "paddingInner": 0, "paddingOuter": 0}}},
         "layer": [
           {"mark": {"type": "rect", "filled": false, "stroke": "#1a1a1a", "strokeWidth": 1.6}},
           {"mark": {"type": "text", "fontSize": 21.5}, "encoding": {"text": {"field": "valor"}}}]},
        {"data": {"name": "tablas"},
         "transform": [{"filter": "datum.tabla === 'Nuevo Parciales'"}, {"fold": ["Nota", "Tiempo"], "as": ["columna", "valor"]}, {"filter": "datum.columna === 'Tiempo'"}],
         "encoding": {
           "x": {"field": "columna", "type": "nominal", "axis": null, "scale": {"range": [313.5, 440], "paddingInner": 0, "paddingOuter": 0}},
           "y": {"field": "variable", "type": "nominal", "sort": null, "axis": null,
                 "scale": {"domain": ["Media", "Moda", "Mediana", "Desvío Estándar", "Máximo", "Mínimo", "Nivel Significancia", "Intervalo Confianza", "Rango Intercuartílico"], "range": [87.4, 322.3], "paddingInner": 0, "paddingOuter": 0}}},
         "layer": [
           {"mark": {"type": "rect", "filled": false, "stroke": "#1a1a1a", "strokeWidth": 1.6}},
           {"mark": {"type": "text", "fontSize": 21.5}, "encoding": {"text": {"field": "valor"}}}]}
      ]
    },
    {
      "width": 542, "height": 322,
      "resolve": {"scale": {"x": "independent", "y": "independent"}},
      "layer": [
        {"data": {"name": "cabecera"}, "transform": [{"filter": "datum.texto === 'VARIABLES'"}],
         "encoding": {
           "x": {"field": "texto", "type": "nominal", "axis": null, "scale": {"range": [124.5, 357], "paddingInner": 0, "paddingOuter": 0}},
           "y": {"field": "texto", "type": "nominal", "axis": null, "scale": {"range": [35.4, 87.4], "paddingInner": 0, "paddingOuter": 0}}},
         "layer": [
           {"mark": {"type": "rect", "filled": false, "stroke": "#1a1a1a", "strokeWidth": 1.6}},
           {"mark": {"type": "text", "fontSize": 21.5, "fontWeight": "bold"}, "encoding": {"text": {"field": "texto"}}}]},
        {"data": {"name": "cabecera"}, "transform": [{"filter": "datum.texto === 'VALOR'"}],
         "encoding": {
           "x": {"field": "texto", "type": "nominal", "axis": null, "scale": {"range": [357, 619], "paddingInner": 0, "paddingOuter": 0}},
           "y": {"field": "texto", "type": "nominal", "axis": null, "scale": {"range": [35.4, 62], "paddingInner": 0, "paddingOuter": 0}}},
         "layer": [
           {"mark": {"type": "rect", "filled": false, "stroke": "#1a1a1a", "strokeWidth": 1.6}},
           {"mark": {"type": "text", "fontSize": 21.5, "fontWeight": "bold"}, "encoding": {"text": {"field": "texto"}}}]},
        {"data": {"name": "cabecera"}, "transform": [{"filter": "datum.texto === 'Nota'"}],
         "encoding": {
           "x": {"field": "texto", "type": "nominal", "axis": null, "scale": {"range": [357, 499], "paddingInner": 0, "paddingOuter": 0}},
           "y": {"field": "texto", "type": "nominal", "axis": null, "scale": {"range": [62, 87.4], "paddingInner": 0, "paddingOuter": 0}}},
         "layer": [
           {"mark": {"type": "rect", "filled": false, "stroke": "#1a1a1a", "strokeWidth": 1.6}},
           {"mark": {"type": "text", "fontSize": 21.5, "fontWeight": "bold"}, "encoding": {"text": {"field": "texto"}}}]},
        {"data": {"name": "cabecera"}, "transform": [{"filter": "datum.texto === 'Tiempo'"}],
         "encoding": {
           "x": {"field": "texto", "type": "nominal", "axis": null, "scale": {"range": [499, 619], "paddingInner": 0, "paddingOuter": 0}},
           "y": {"field": "texto", "type": "nominal", "axis": null, "scale": {"range": [62, 87.4], "paddingInner": 0, "paddingOuter": 0}}},
         "layer": [
           {"mark": {"type": "rect", "filled": false, "stroke": "#1a1a1a", "strokeWidth": 1.6}},
           {"mark": {"type": "text", "fontSize": 21.5, "fontWeight": "bold"}, "encoding": {"text": {"field": "texto"}}}]},
        {"data": {"name": "tablas"},
         "transform": [{"filter": "datum.tabla === 'Nuevo Finales'"}, {"fold": ["variable"], "as": ["columna", "valor"]}],
         "encoding": {
           "x": {"field": "columna", "type": "nominal", "axis": null, "scale": {"range": [124.5, 357], "paddingInner": 0, "paddingOuter": 0}},
           "y": {"field": "variable", "type": "nominal", "sort": null, "axis": null,
                 "scale": {"domain": ["Media", "Moda", "Mediana", "Desvío Estándar", "Máximo", "Mínimo", "Nivel Significancia", "Intervalo Confianza", "Rango Intercuartílico"], "range": [87.4, 322.3], "paddingInner": 0, "paddingOuter": 0}}},
         "layer": [
           {"mark": {"type": "rect", "filled": false, "stroke": "#1a1a1a", "strokeWidth": 1.6}},
           {"mark": {"type": "text", "fontSize": 21.5, "align": "left", "dx": 15},
            "encoding": {"x": {"field": "columna", "type": "nominal", "bandPosition": 0, "axis": null}, "text": {"field": "valor"}}}]},
        {"data": {"name": "tablas"},
         "transform": [{"filter": "datum.tabla === 'Nuevo Finales'"}, {"fold": ["Nota", "Tiempo"], "as": ["columna", "valor"]}, {"filter": "datum.columna === 'Nota'"}],
         "encoding": {
           "x": {"field": "columna", "type": "nominal", "axis": null, "scale": {"range": [357, 499], "paddingInner": 0, "paddingOuter": 0}},
           "y": {"field": "variable", "type": "nominal", "sort": null, "axis": null,
                 "scale": {"domain": ["Media", "Moda", "Mediana", "Desvío Estándar", "Máximo", "Mínimo", "Nivel Significancia", "Intervalo Confianza", "Rango Intercuartílico"], "range": [87.4, 322.3], "paddingInner": 0, "paddingOuter": 0}}},
         "layer": [
           {"mark": {"type": "rect", "filled": false, "stroke": "#1a1a1a", "strokeWidth": 1.6}},
           {"mark": {"type": "text", "fontSize": 21.5}, "encoding": {"text": {"field": "valor"}}}]},
        {"data": {"name": "tablas"},
         "transform": [{"filter": "datum.tabla === 'Nuevo Finales'"}, {"fold": ["Nota", "Tiempo"], "as": ["columna", "valor"]}, {"filter": "datum.columna === 'Tiempo'"}],
         "encoding": {
           "x": {"field": "columna", "type": "nominal", "axis": null, "scale": {"range": [499, 619], "paddingInner": 0, "paddingOuter": 0}},
           "y": {"field": "variable", "type": "nominal", "sort": null, "axis": null,
                 "scale": {"domain": ["Media", "Moda", "Mediana", "Desvío Estándar", "Máximo", "Mínimo", "Nivel Significancia", "Intervalo Confianza", "Rango Intercuartílico"], "range": [87.4, 322.3], "paddingInner": 0, "paddingOuter": 0}}},
         "layer": [
           {"mark": {"type": "rect", "filled": false, "stroke": "#1a1a1a", "strokeWidth": 1.6}},
           {"mark": {"type": "text", "fontSize": 21.5}, "encoding": {"text": {"field": "valor"}}}]}
      ]
    }
  ]
}
